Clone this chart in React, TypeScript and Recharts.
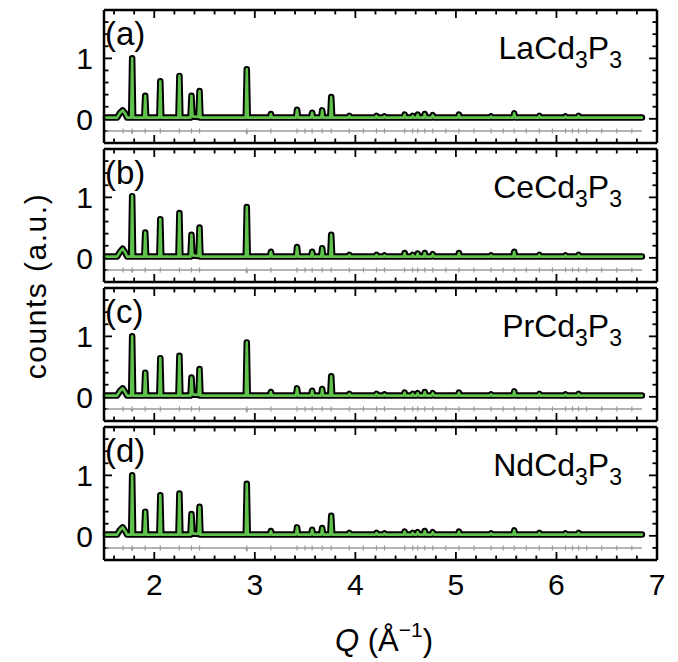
import React from 'react';
import { ComposedChart, Line, Scatter, XAxis, YAxis, ReferenceLine } from 'recharts';

// Q grid (1/Å) shared by all four patterns
const q = [
  1.52, 1.63, 1.66, 1.685, 1.71, 1.73,
  1.77, 1.78, 1.79,
  1.90, 1.91, 1.92,
  2.05, 2.06, 2.07,
  2.24, 2.25, 2.26,
  2.36, 2.37, 2.38,
  2.44, 2.45, 2.46,
  2.91, 2.92, 2.93,
  3.15, 3.16, 3.17,
  3.41, 3.42, 3.43,
  3.56, 3.57, 3.58,
  3.66, 3.67, 3.68,
  3.75, 3.76, 3.77,
  3.93, 3.94, 3.95,
  4.20, 4.21, 4.22,
  4.28, 4.29, 4.30,
  4.48, 4.49, 4.50,
  4.56, 4.57, 4.58,
  4.61, 4.62, 4.63,
  4.68, 4.69, 4.70,
  4.76, 4.77, 4.78,
  5.02, 5.03, 5.04,
  5.34, 5.35, 5.36,
  5.57, 5.58, 5.59,
  5.82, 5.83, 5.84,
  6.08, 6.09, 6.10,
  6.21, 6.22, 6.23,
  6.85,
];

const laCd3P3 = [
  0.02, 0.02, 0.10, 0.14, 0.09, 0.02,
  0.02, 1.00, 0.02,
  0.02, 0.38, 0.02,
  0.02, 0.62, 0.02,
  0.02, 0.71, 0.02,
  0.02, 0.38, 0.04,
  0.03, 0.46, 0.02,
  0.02, 0.82, 0.02,
  0.02, 0.08, 0.02,
  0.02, 0.15, 0.02,
  0.02, 0.10, 0.02,
  0.02, 0.14, 0.02,
  0.02, 0.36, 0.02,
  0.02, 0.05, 0.02,
  0.02, 0.05, 0.02,
  0.02, 0.04, 0.02,
  0.02, 0.07, 0.02,
  0.02, 0.05, 0.02,
  0.02, 0.07, 0.02,
  0.02, 0.08, 0.02,
  0.02, 0.06, 0.02,
  0.02, 0.07, 0.02,
  0.02, 0.04, 0.02,
  0.02, 0.09, 0.02,
  0.02, 0.05, 0.02,
  0.02, 0.04, 0.02,
  0.02, 0.05, 0.02,
  0.02,
];

const ceCd3P3 = [
  0.02, 0.02, 0.10, 0.15, 0.09, 0.02,
  0.02, 1.02, 0.02,
  0.02, 0.42, 0.02,
  0.02, 0.64, 0.02,
  0.02, 0.74, 0.02,
  0.02, 0.38, 0.04,
  0.03, 0.50, 0.02,
  0.02, 0.84, 0.02,
  0.02, 0.10, 0.02,
  0.02, 0.18, 0.02,
  0.02, 0.10, 0.02,
  0.02, 0.16, 0.02,
  0.02, 0.38, 0.02,
  0.02, 0.05, 0.02,
  0.02, 0.05, 0.02,
  0.02, 0.04, 0.02,
  0.02, 0.08, 0.02,
  0.02, 0.05, 0.02,
  0.02, 0.07, 0.02,
  0.02, 0.08, 0.02,
  0.02, 0.06, 0.02,
  0.02, 0.08, 0.02,
  0.02, 0.04, 0.02,
  0.02, 0.10, 0.02,
  0.02, 0.05, 0.02,
  0.02, 0.04, 0.02,
  0.02, 0.05, 0.02,
  0.02,
];

const prCd3P3 = [
  0.02, 0.02, 0.10, 0.14, 0.08, 0.02,
  0.02, 1.00, 0.02,
  0.02, 0.40, 0.02,
  0.02, 0.64, 0.02,
  0.02, 0.68, 0.02,
  0.02, 0.32, 0.04,
  0.03, 0.46, 0.02,
  0.02, 0.90, 0.02,
  0.02, 0.08, 0.02,
  0.02, 0.14, 0.02,
  0.02, 0.10, 0.02,
  0.02, 0.13, 0.02,
  0.02, 0.34, 0.02,
  0.02, 0.05, 0.02,
  0.02, 0.05, 0.02,
  0.02, 0.04, 0.02,
  0.02, 0.07, 0.02,
  0.02, 0.05, 0.02,
  0.02, 0.06, 0.02,
  0.02, 0.08, 0.02,
  0.02, 0.06, 0.02,
  0.02, 0.07, 0.02,
  0.02, 0.04, 0.02,
  0.02, 0.09, 0.02,
  0.02, 0.05, 0.02,
  0.02, 0.04, 0.02,
  0.02, 0.05, 0.02,
  0.02,
];

const ndCd3P3 = [
  0.02, 0.02, 0.10, 0.14, 0.08, 0.02,
  0.02, 1.00, 0.02,
  0.02, 0.40, 0.02,
  0.02, 0.67, 0.02,
  0.02, 0.70, 0.02,
  0.02, 0.36, 0.04,
  0.03, 0.48, 0.02,
  0.02, 0.86, 0.02,
  0.02, 0.08, 0.02,
  0.02, 0.14, 0.02,
  0.02, 0.10, 0.02,
  0.02, 0.13, 0.02,
  0.02, 0.33, 0.02,
  0.02, 0.05, 0.02,
  0.02, 0.05, 0.02,
  0.02, 0.04, 0.02,
  0.02, 0.07, 0.02,
  0.02, 0.05, 0.02,
  0.02, 0.06, 0.02,
  0.02, 0.08, 0.02,
  0.02, 0.06, 0.02,
  0.02, 0.07, 0.02,
  0.02, 0.04, 0.02,
  0.02, 0.09, 0.02,
  0.02, 0.05, 0.02,
  0.02, 0.04, 0.02,
  0.02, 0.05, 0.02,
  0.02,
];

// difference curve (obs - calc, offset) and Bragg reflection positions
const diffQ = [1.52, 1.77, 1.78, 1.79, 2.91, 2.92, 2.93, 6.85];
const diff = [-0.2, -0.2, -0.23, -0.2, -0.2, -0.24, -0.2, -0.2];
const braggQ = [
  1.69, 1.78, 1.91, 2.06, 2.25, 2.37, 2.45, 2.92, 3.16, 3.42, 3.50, 3.57, 3.67,
  3.76, 3.94, 4.08, 4.21, 4.29, 4.49, 4.57, 4.62, 4.69, 4.77, 4.90, 5.03, 5.18,
  5.35, 5.47, 5.58, 5.70, 5.83, 5.96, 6.09, 6.16, 6.22, 6.30, 6.45, 6.60, 6.75,
];

const xTicks = [
  1.6, 1.8, 2, 2.2, 2.4, 2.6, 2.8, 3, 3.2, 3.4, 3.6, 3.8, 4, 4.2, 4.4, 4.6, 4.8,
  5, 5.2, 5.4, 5.6, 5.8, 6, 6.2, 6.4, 6.6, 6.8, 7,
];
const yTicks = [-0.2, 0, 0.2, 0.4, 0.6, 0.8, 1, 1.2, 1.4, 1.6];

const panels = [
  { tag: '(a)', el: 'La', values: laCd3P3 },
  { tag: '(b)', el: 'Ce', values: ceCd3P3 },
  { tag: '(c)', el: 'Pr', values: prCd3P3 },
  { tag: '(d)', el: 'Nd', values: ndCd3P3 },
];

const FONT = '"Liberation Sans", Arial, Helvetica, sans-serif';
const GREEN = '#5fc24a';
const PANEL_H = 133;
const PANEL_TOPS = [10, 149, 288, 427];
const PAD = 4;
const X0 = 1.5;
const X1 = 7;
const Y0 = -0.4;
const Y1 = 1.8;

// inward tick lengths in axis units (about 8 px major, 4.5 px minor)
const TX_MAJOR = 0.08;
const TX_MINOR = 0.045;
const TY_MAJOR = 0.132;
const TY_MINOR = 0.074;

const isMajor = (v: number) => Math.abs(v - Math.round(v)) < 1e-6;

const xLabel = (labels: boolean) => (p: any) => {
  const v = p.payload.value;
  if (!labels || !isMajor(v)) return <g />;
  return (
    <text x={p.x} y={p.y + 35} textAnchor="middle" fontSize={30} fontFamily={FONT} fill="#000">
      {v}
    </text>
  );
};

const yLabel = (p: any) => {
  const v = p.payload.value;
  if (!isMajor(v)) return <g />;
  return (
    <text x={p.x - 11} y={p.y + 11} textAnchor="end" fontSize={30} fontFamily={FONT} fill="#000">
      {v}
    </text>
  );
};

const BraggMark = (p: any) => {
  const { cx, cy } = p;
  return <path d={`M${cx},${cy - 2.5}L${cx},${cy + 2.5}`} stroke="#9a9a9a" strokeWidth={1.2} />;
};

const tickStyle = { stroke: '#000', strokeWidth: 1.8, ifOverflow: 'visible' as const, xAxisId: 'b', yAxisId: 'l' };

const Panel = ({ values, last }: { values: number[]; last: boolean }) => {
  const rows = q.map((v, i) => ({ q: v, obs: values[i] }));
  const diffRows = diffQ.map((v, i) => ({ q: v, d: diff[i] }));
  const braggRows = braggQ.map((v) => ({ q: v, y: -0.2 }));
  const bottomH = last ? 44 : 1;
  const axisLine = { stroke: '#000', strokeWidth: 2.5 };
  return (
    <ComposedChart
      width={678}
      height={PAD + PANEL_H + (last ? bottomH : PAD)}
      data={rows}
      margin={{ top: PAD - 1, right: 0, bottom: last ? 0 : PAD - 1, left: 0 }}
    >
      <XAxis
        xAxisId="b"
        type="number"
        dataKey="q"
        domain={[X0, X1]}
        ticks={xTicks}
        interval={0}
        height={bottomH}
        tickSize={0}
        tickMargin={0}
        tickLine={false}
        axisLine={axisLine}
        tick={xLabel(last)}
      />
      <XAxis
        xAxisId="t"
        orientation="top"
        type="number"
        dataKey="q"
        domain={[X0, X1]}
        ticks={xTicks}
        height={1}
        tickLine={false}
        axisLine={axisLine}
        tick={false}
      />
      <YAxis
        yAxisId="l"
        type="number"
        domain={[Y0, Y1]}
        ticks={yTicks}
        interval={0}
        width={104}
        tickSize={0}
        tickMargin={0}
        tickLine={false}
        axisLine={axisLine}
        tick={yLabel}
      />
      <YAxis
        yAxisId="r"
        orientation="right"
        type="number"
        domain={[Y0, Y1]}
        ticks={yTicks}
        width={21}
        tickLine={false}
        axisLine={axisLine}
        tick={false}
      />

      {xTicks.map((v) => {
        const len = isMajor(v) ? TY_MAJOR : TY_MINOR;
        return (
          <React.Fragment key={`x${v}`}>
            <ReferenceLine {...tickStyle} segment={[{ x: v, y: Y0 }, { x: v, y: Y0 + len }]} />
            <ReferenceLine {...tickStyle} segment={[{ x: v, y: Y1 }, { x: v, y: Y1 - len }]} />
          </React.Fragment>
        );
      })}
      {yTicks.map((v) => {
        const len = isMajor(v) ? TX_MAJOR : TX_MINOR;
        return (
          <React.Fragment key={`y${v}`}>
            <ReferenceLine {...tickStyle} segment={[{ x: X0, y: v }, { x: X0 + len, y: v }]} />
            <ReferenceLine {...tickStyle} segment={[{ x: X1, y: v }, { x: X1 - len, y: v }]} />
          </React.Fragment>
        );
      })}

      <Line
        xAxisId="b"
        yAxisId="l"
        data={diffRows}
        dataKey="d"
        stroke="#9a9a9a"
        strokeWidth={1.5}
        dot={false}
        isAnimationActive={false}
      />
      <Scatter xAxisId="b" yAxisId="l" data={braggRows} dataKey="y" shape={BraggMark} isAnimationActive={false} />
      <Line
        xAxisId="b"
        yAxisId="l"
        dataKey="obs"
        stroke="#000"
        strokeWidth={6.5}
        strokeLinejoin="round"
        strokeLinecap="round"
        dot={false}
        isAnimationActive={false}
      />
      <Line
        xAxisId="b"
        yAxisId="l"
        dataKey="obs"
        stroke={GREEN}
        strokeWidth={2.6}
        strokeLinejoin="round"
        strokeLinecap="round"
        dot={false}
        isAnimationActive={false}
      />
    </ComposedChart>
  );
};

export default function App() {
  return (
    <div style={{ position: 'absolute', left: 0, top: 0, width: 678, height: 662, background: '#fff', fontFamily: FONT }}>
      {panels.map((p, i) => (
        <React.Fragment key={p.tag}>
          <div style={{ position: 'absolute', left: 0, top: PANEL_TOPS[i] - PAD }}>
            <Panel values={p.values} last={i === panels.length - 1} />
          </div>
          <div style={{ position: 'absolute', left: 105, top: PANEL_TOPS[i] + 7, fontSize: 33, lineHeight: '33px' }}>
            {p.tag}
          </div>
          <div
            style={{
              position: 'absolute',
              right: 56,
              top: PANEL_TOPS[i] + 22,
              fontSize: 32,
              lineHeight: '32px',
              whiteSpace: 'nowrap',
            }}
          >
            {p.el}Cd
            <span style={{ fontSize: 23, position: 'relative', top: 9 }}>3</span>P
            <span style={{ fontSize: 23, position: 'relative', top: 9 }}>3</span>
          </div>
        </React.Fragment>
      ))}
      <div
        style={{
          position: 'absolute',
          left: 36 - 150,
          top: 286 - 20,
          width: 300,
          height: 40,
          lineHeight: '40px',
          textAlign: 'center',
          transform: 'rotate(-90deg)',
          fontSize: 30,
          letterSpacing: 1.5,
          whiteSpace: 'nowrap',
        }}
      >
        counts (a.u.)
      </div>
      <div
        style={{
          position: 'absolute',
          left: 384,
          top: 625,
          transform: 'translateX(-50%)',
          fontSize: 31,
          lineHeight: '32px',
          whiteSpace: 'nowrap',
        }}
      >
        <span style={{ fontStyle: 'italic' }}>Q</span> (Å
        <span style={{ fontSize: 21, position: 'relative', top: -14 }}>−1</span>)
      </div>
    </div>
  );
}
